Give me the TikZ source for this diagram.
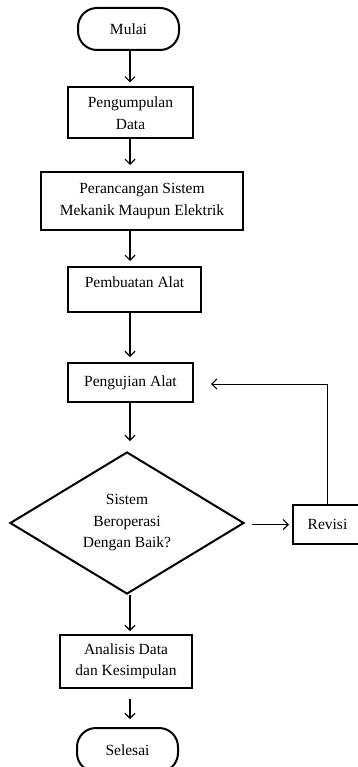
\documentclass[tikz,border=0pt]{standalone}
\usepackage{fontspec}
\setmainfont{Liberation Serif}
\usetikzlibrary{arrows.meta,shapes.geometric}
\tikzset{
  base/.style={draw=black, line width=2pt, align=center, inner sep=0pt,
    font=\fontsize{15.5}{21.5}\selectfont},
  procbox/.style={base, rectangle},
  term/.style={base, rectangle, rounded corners=19pt},
  decision/.style={base, diamond, aspect=1.648},
  arr/.style={line width=1.1pt, -{Straight Barb[length=5pt,width=10pt,line width=1.1pt]}},
}
\begin{document}
\begin{tikzpicture}[x=1pt,y=-1pt]
\useasboundingbox (0,0) rectangle (358,767);
\coordinate (xl) at (130,0);
\node[term, minimum width=101pt, minimum height=42pt] (mulai) at (128.5,29) {Mulai};
\node[procbox, minimum width=125pt, minimum height=51pt] (data) at (130.5,113) {Pengumpulan\\Data};
\node[procbox, minimum width=202pt, minimum height=58pt] (rancang) at (142,201) {Perancangan Sistem\\Mekanik Maupun Elektrik};
\node[procbox, minimum width=133pt, minimum height=45pt, text height=14pt, text depth=18pt, inner ysep=6.5pt] (buat) at (134.5,289.5) {Pembuatan Alat};
\node[procbox, minimum width=125pt, minimum height=39pt] (uji) at (130.5,382.5) {Pengujian Alat};
\node[decision, minimum width=234pt, minimum height=142pt] (dec) at (127,523) {Sistem\\Beroperasi\\Dengan Baik?};
\node[procbox, minimum width=69pt, minimum height=39pt] (revisi) at (327.5,524.5) {Revisi};
\node[procbox, minimum width=132pt, minimum height=53pt] (analisis) at (126,661.5) {Analisis Data\\dan Kesimpulan};
\node[term, minimum width=101pt, minimum height=44pt] (selesai) at (127.5,750) {Selesai};

\draw[arr, shorten >=4pt] (mulai.south -| xl) -- (data.north -| xl);
\draw[arr, shorten >=6pt] (data.south -| xl) -- (rancang.north -| xl);
\draw[arr, shorten >=5pt] (rancang.south -| xl) -- (buat.north -| xl);
\draw[arr, shorten >=5pt] (buat.south -| xl) -- (uji.north -| xl);
\draw[arr, shorten >=10pt] (uji.south -| xl) -- (dec.north -| xl);
\draw[arr, shorten >=3pt] (dec.south -| xl) -- (analisis.north -| xl);
\draw[arr, shorten <=10pt, shorten >=8pt] (analisis.south -| xl) -- (selesai.north -| xl);
\draw[arr, shorten <=7pt, shorten >=3pt] (dec.east |- revisi.west) -- (revisi.west);
\draw[arr, line width=1pt, shorten >=17pt] (revisi.north) |- ([yshift=-1.5pt]uji.east);
\end{tikzpicture}
\end{document}
